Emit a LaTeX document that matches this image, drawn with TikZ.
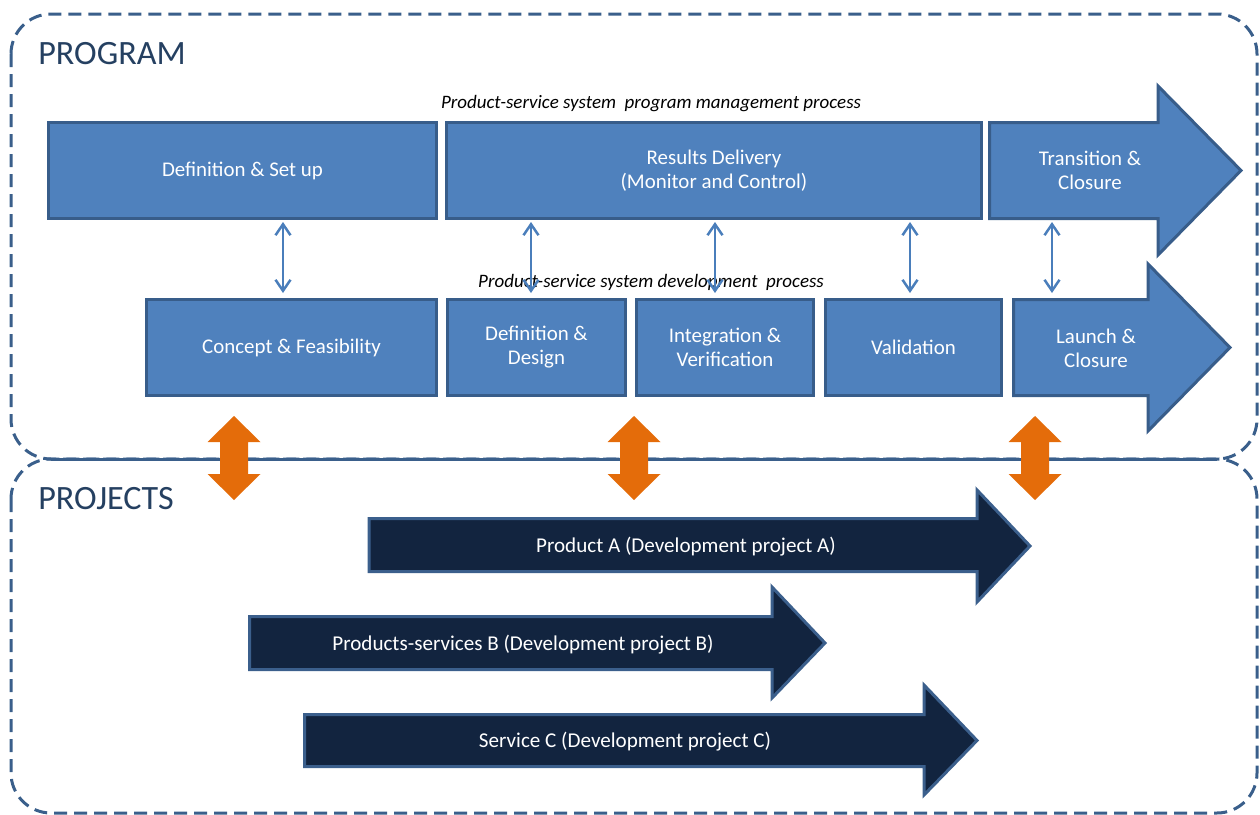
\documentclass[tikz,border=0pt]{standalone}
\usepackage{fontspec}
\setmainfont{Carlito}
\usetikzlibrary{arrows.meta}
\definecolor{boxfill}{HTML}{4F81BD}
\definecolor{boxline}{HTML}{385D8A}
\definecolor{cont}{HTML}{3A5F8B}
\definecolor{titlec}{HTML}{254061}
\definecolor{darkfill}{HTML}{12243F}
\definecolor{darkline}{HTML}{3B5F8C}
\definecolor{orng}{HTML}{E46C0A}
\definecolor{thinc}{HTML}{4A7EBB}
\begin{document}
\begin{tikzpicture}[x=0.2mm,y=-0.2mm,
  pbox/.style 2 args={draw=boxline, fill=boxfill, line width=0.6mm,
    minimum width=#1*0.2mm, minimum height=#2*0.2mm, inner sep=0pt,
    text=white, font=\fontsize{11.9}{13.6}\selectfont, align=center},
  parrow/.style={draw=boxline, fill=boxfill, line width=0.6mm, line join=miter},
  ptext/.style={text=white, font=\fontsize{11.9}{13.6}\selectfont, align=center, inner sep=0pt},
  darrow/.style={draw=darkline, fill=darkfill, line width=0.6mm, line join=miter},
  dtext/.style={text=white, font=\fontsize{12}{13}\selectfont, inner sep=0pt},
  container/.style={draw=cont, line width=0.6mm, dash pattern=on 2.6mm off 1.4mm, rounded corners=8mm},
  shared/.style={draw=cont, line width=0.6mm},
  title/.style={text=titlec, font=\fontsize{19.4}{22}\selectfont, anchor=west, inner sep=0pt},
  lab/.style={font=\fontsize{10.8}{12}\selectfont\itshape, inner sep=0pt},
  link/.style={draw=thinc, line width=0.5mm, {Straight Barb[length=2.2mm,width=3mm]}-{Straight Barb[length=2.2mm,width=3mm]}, shorten <=0.4mm, shorten >=1mm},
  orange/.style={fill=orng}
]
\useasboundingbox (0,0) rectangle (1260,815);

% containers
\draw[container] (11,14) rectangle (1257,459);
\draw[container] (11,459) rectangle (1257,813);
\coordinate (sharedL) at (51,459);
\coordinate (sharedR) at (1217,459);
\draw[shared] (sharedL) -- (sharedR);
\node[title] (program) at (38,54) {PROGRAM};
\node[title] (projects) at (38,499) {PROJECTS};

% labels
\node[lab] (pmlabel) at (651,104) {Product-service system\ \ program management process};
\node[lab] (devlabel) at (651,282.5) {Product-service system development\ \ process};

% top row
\node[pbox={388}{96}] (defsetup) at (242.5,170.5) {\raisebox{-0.15em}{Definition \& Set up}};
\node[pbox={535}{96}] (results) at (714,170.5) {Results Delivery\\(Monitor and Control)};
\draw[parrow] (989.5,122.5) -- (1158,122.5) -- (1158,86) -- (1241,170.5) -- (1158,255) -- (1158,218.5) -- (989.5,218.5) -- cycle;
\node[ptext] (transition) at (1090,170.5) {Transition \&\\Closure};

% bottom row
\node[pbox={290}{96}] (concept) at (291.5,347.5) {\raisebox{-0.15em}{Concept \& Feasibility}};
\node[pbox={178}{96}] (defdesign) at (536.5,347.5) {Definition \&\\Design};
\node[pbox={177}{96}] (integ) at (725,347.5) {Integration \&\\Verification};
\node[pbox={176}{96}] (valid) at (913.5,347.5) {\raisebox{-0.15em}{Validation}};
\draw[parrow] (1013.5,299.5) -- (1148,299.5) -- (1148,264) -- (1230,347.5) -- (1148,431) -- (1148,395.5) -- (1013.5,395.5) -- cycle;
\node[ptext] (launch) at (1096,348.5) {Launch \&\\Closure};

% thin links
\draw[link] (283,0 |- defsetup.south) -- (283,0 |- concept.north);
\draw[link] (531,0 |- results.south) -- (531,0 |- defdesign.north);
\draw[link] (715,0 |- results.south) -- (715,0 |- integ.north);
\draw[link] (910,0 |- results.south) -- (910,0 |- valid.north);
\draw[link] (1052,0 |- results.south) -- (1052,0 |- valid.north);

% orange double arrows
\foreach \cx in {234,634,1035}{
  \fill[orange] (\cx,416) -- (\cx+26.5,442) -- (\cx+14,442) -- (\cx+14,474) -- (\cx+26.5,474) -- (\cx,500)
    -- (\cx-26.5,474) -- (\cx-14,474) -- (\cx-14,442) -- (\cx-26.5,442) -- cycle;
}

% project arrows
\draw[darrow] (369,518.5) -- (977,518.5) -- (977,490) -- (1030,546) -- (977,602) -- (977,571.5) -- (369,571.5) -- cycle;
\node[dtext] (prodA) at (686,547) {Product A (Development project A)};
\draw[darrow] (249.5,616.5) -- (772,616.5) -- (772,587) -- (825,643) -- (772,698) -- (772,669.5) -- (249.5,669.5) -- cycle;
\node[dtext] (prodB) at (523,645) {Products-services B (Development project B)};
\draw[darrow] (304.5,714.5) -- (924,714.5) -- (924,685) -- (977,740.5) -- (924,795) -- (924,766.5) -- (304.5,766.5) -- cycle;
\node[dtext] (servC) at (625,742) {Service C (Development project C)};
\end{tikzpicture}
\end{document}
